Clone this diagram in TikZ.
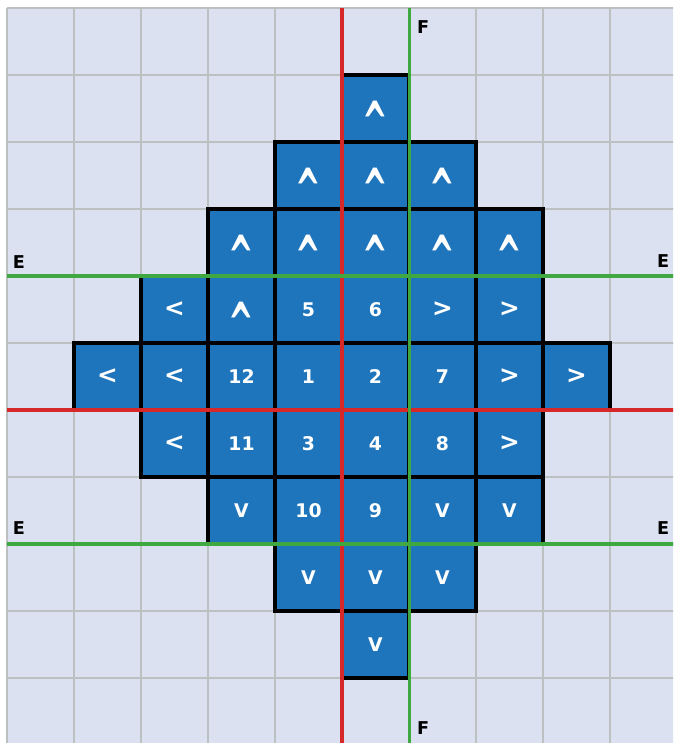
\documentclass[tikz,border=0pt]{standalone}
\usepackage{fontspec}
\setmainfont{DejaVu Sans}
\definecolor{cellblue}{RGB}{30,117,188}
\definecolor{paper}{RGB}{219,225,241}
\definecolor{gridgray}{RGB}{188,192,192}
\definecolor{axisred}{RGB}{214,40,40}
\definecolor{axisgreen}{RGB}{64,168,64}
\newcommand\caretup{{\fontsize{13}{13}\selectfont\raisebox{-0.92em}[0.45em][0pt]{\scalebox{1}[1.9]{\^{}}}}}
\newcommand\chevleft{{\fontsize{10.5}{11}\selectfont <}}
\newcommand\chevright{{\fontsize{10.5}{11}\selectfont >}}
\begin{document}
\begin{tikzpicture}[x=1cm,y=1cm,
  cellbox/.style={draw=black, line width=1.7pt, fill=cellblue, minimum size=1cm,
    inner sep=0pt, outer sep=0pt, text=white, font=\bfseries\fontsize{8}{9}\selectfont},
  gridline/.style={draw=gridgray, line width=0.9pt},
  redaxis/.style={draw=axisred, line width=1.3pt},
  greenaxis/.style={draw=axisgreen, line width=1.3pt},
  axislabel/.style={font=\bfseries\fontsize{7.5}{9}\selectfont, text=black, inner sep=0pt}]
\useasboundingbox[fill=white] (-0.1045,0.119) rectangle (9.940,-10.970);
\clip (-0.1045,0.119) rectangle (9.940,-10.970);
\fill[paper] (0,0) rectangle (10,-11);
\foreach \i in {0,...,10} \draw[gridline] (\i,0) -- (\i,-11);
\foreach \j in {0,...,11} \draw[gridline] (0,-\j) -- (10,-\j);
\foreach \c/\r/\t in {
  5/1/\caretup,
  4/2/\caretup, 5/2/\caretup, 6/2/\caretup,
  3/3/\caretup, 4/3/\caretup, 5/3/\caretup, 6/3/\caretup, 7/3/\caretup,
  2/4/\chevleft, 3/4/\caretup, 4/4/5, 5/4/6, 6/4/\chevright, 7/4/\chevright,
  1/5/\chevleft, 2/5/\chevleft, 3/5/12, 4/5/1, 5/5/2, 6/5/7, 7/5/\chevright, 8/5/\chevright,
  2/6/\chevleft, 3/6/11, 4/6/3, 5/6/4, 6/6/8, 7/6/\chevright,
  3/7/V, 4/7/10, 5/7/9, 6/7/V, 7/7/V,
  4/8/V, 5/8/V, 6/8/V,
  5/9/V}
  \node[cellbox] (cell-\c-\r) at (\c+0.5,-\r-0.5) {\t};
\coordinate (rtop) at (5,0);   \coordinate (rbot) at (5,-11);
\coordinate (rleft) at (0,-6); \coordinate (rright) at (10,-6);
\coordinate (gtop) at (6,0);   \coordinate (gbot) at (6,-11);
\coordinate (e1l) at (0,-4);   \coordinate (e1r) at (10,-4);
\coordinate (e2l) at (0,-8);   \coordinate (e2r) at (10,-8);
\draw[redaxis] (rtop) -- (rbot);
\draw[redaxis] (rleft) -- (rright);
\draw[greenaxis] (gtop) -- (gbot);
\draw[greenaxis] (e1l) -- (e1r);
\draw[greenaxis] (e2l) -- (e2r);
\node[axislabel] (ftop) at (6.209,-0.284) {F};
\node[axislabel] (fbot) at (6.209,-10.746) {F};
\node[axislabel] (e1left) at (0.179,-3.79) {E};
\node[axislabel] (e1right) at (9.791,-3.78) {E};
\node[axislabel] (e2left) at (0.179,-7.76) {E};
\node[axislabel] (e2right) at (9.791,-7.76) {E};
\end{tikzpicture}
\end{document}
